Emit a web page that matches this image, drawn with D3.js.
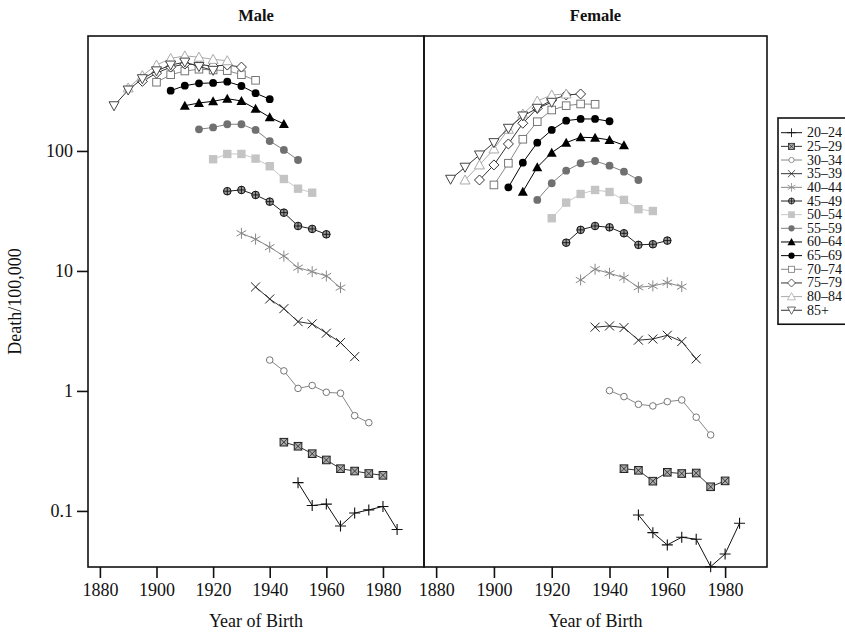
<!DOCTYPE html>
<html><head><meta charset="utf-8">
<script src="https://cdn.jsdelivr.net/npm/d3@7/dist/d3.min.js"></script>
<style>
body{margin:0;background:#fff}
svg{display:block}
text{font-family:"Liberation Serif","DejaVu Serif",serif;fill:#111}
</style>
</head><body>
<svg id="chart" width="845" height="635"></svg>
<script>
// ---------------- DATA ----------------
const ageGroups = ["20\u201324","25\u201329","30\u201334","35\u201339","40\u201344","45\u201349","50\u201354",
                   "55\u201359","60\u201364","65\u201369","70\u201374","75\u201379","80\u201384","85+"];
// birth cohort of first point in each series, points every 5 years
const startYears = [1950,1945,1940,1935,1930,1925,1920,1915,1910,1905,1900,1895,1890,1885];
const cohortStep = 5;
const panelTitles = ["Male","Female"];
const xTickValues = [1880,1900,1920,1940,1960,1980];
const yTickValues = [0.1,1,10,100];
const yTickLabels = ["0.1","1","10","100"];

// Male death rates per 100,000
const m20_24 = [0.172,0.111,0.114,0.075,0.096,0.102,0.109,0.070];
const m25_29 = [0.374,0.346,0.300,0.266,0.225,0.215,0.205,0.198];
const m30_34 = [1.81,1.47,1.05,1.11,0.975,0.957,0.622,0.544];
const m35_39 = [7.36,5.84,4.85,3.78,3.62,3.03,2.53,1.93];
const m40_44 = [20.6,18.4,15.8,13.3,10.65,9.87,9.08,7.26];
const m45_49 = [46.2,47.3,43.0,37.8,30.6,23.7,22.4,20.2];
const m50_54 = [85.3,94.4,94.4,86.3,74.6,58.4,48.5,44.9];
const m55_59 = [151.6,157,167,167,149.6,121,102,84.1];
const m60_64 = [238.5,251,259.5,272.8,261,225,191,168];
const m65_69 = [318,350,366,369,378,348,303,270];
const m70_74 = [374,432,464,480,473,467,432,388];
const m75_79 = [380,445,500,530,525,510,520,500];
const m80_84 = [335,425,520,590,620,605,580,565];
const m85p   = [238,322,400,465,520,550,505,470];

// Female death rates per 100,000
const f20_24 = [0.0926,0.0659,0.0521,0.0604,0.0581,0.0343,0.0438,0.079];
const f25_29 = [0.225,0.218,0.177,0.210,0.205,0.207,0.159,0.178];
const f30_34 = [1.006,0.897,0.774,0.750,0.814,0.841,0.604,0.430];
const f35_39 = [3.40,3.48,3.37,2.65,2.71,2.91,2.58,1.85];
const f40_44 = [8.41,10.33,9.57,8.79,7.31,7.50,7.99,7.40];
const f45_49 = [17.2,22.0,23.7,23.1,20.6,16.5,16.7,17.9];
const f50_54 = [27.5,37.1,43.8,47.3,45.5,39.1,32.7,31.6];
const f55_59 = [39.1,53.8,68.5,79.0,82.5,75.4,67.2,57.3];
const f60_64 = [45.8,73.2,96.8,117.3,130.0,129,123.5,111.6];
const f65_69 = [49.8,79.9,117.3,149.6,178.9,184.8,184.8,176.8];
const f70_74 = [52.1,79.0,125.2,175.4,219.5,238.5,246.4,245];
const f75_79 = [57.3,76.5,114.4,170.1,226.8,266,292.9,298.5];
const f80_84 = [57.3,76.5,103.9,151.6,203.4,261,292.9,298.5];
const f85p   = [58.1,73.2,92.6,117.3,154.5,195.7,226.8,254.5];

const maleSeries = [m20_24,m25_29,m30_34,m35_39,m40_44,m45_49,m50_54,m55_59,m60_64,m65_69,m70_74,m75_79,m80_84,m85p];
const femaleSeries = [f20_24,f25_29,f30_34,f35_39,f40_44,f45_49,f50_54,f55_59,f60_64,f65_69,f70_74,f75_79,f80_84,f85p];

// ---------------- STYLE ----------------
const markerTypes = ["plus","boxX","circleOpen","cross","asterisk","circlePlus","squareFill",
                     "circleFill","triangleFill","circleFill","squareOpen","diamondOpen","triangleOpen","triangleDownOpen"];
const markerColors = ["#111","#222","#777","#222","#888","#111","#c4c4c4","#707070","#000","#000","#777","#333","#aaa","#444"];
const lineColors   = ["#111","#333","#888","#333","#888","#222","#c8c8c8","#808080","#000","#000","#888","#333","#aaa","#333"];

const svg = d3.select("#chart");
const plotTop = 36, plotBottom = 567;
const panels = [{x0:88,x1:424},{x0:424,x1:767}];
const y = d3.scaleLog().domain([0.0341,908]).range([plotBottom, plotTop]);

function drawMarker(g, type, col){
  switch(type){
    case "plus":
      g.append("path").attr("d","M-5.5,0H5.5M0,-5.5V5.5").attr("stroke",col).attr("stroke-width",1.1).attr("fill","none"); break;
    case "boxX":
      g.append("rect").attr("x",-3.8).attr("y",-3.8).attr("width",7.6).attr("height",7.6).attr("fill","#aaa").attr("stroke",col).attr("stroke-width",1);
      g.append("path").attr("d","M-3.8,-3.8L3.8,3.8M-3.8,3.8L3.8,-3.8").attr("stroke",col).attr("stroke-width",0.8); break;
    case "circleOpen":
      g.append("circle").attr("r",3.3).attr("fill","#fff").attr("stroke",col).attr("stroke-width",1); break;
    case "cross":
      g.append("path").attr("d","M-4.5,-4.5L4.5,4.5M-4.5,4.5L4.5,-4.5").attr("stroke",col).attr("stroke-width",1).attr("fill","none"); break;
    case "asterisk":
      g.append("path").attr("d","M0,-5.5V5.5M-4.8,-2.8L4.8,2.8M-4.8,2.8L4.8,-2.8").attr("stroke",col).attr("stroke-width",1).attr("fill","none"); break;
    case "circlePlus":
      g.append("circle").attr("r",3.8).attr("fill","#999").attr("stroke",col).attr("stroke-width",1);
      g.append("path").attr("d","M-3.8,0H3.8M0,-3.8V3.8").attr("stroke",col).attr("stroke-width",0.9); break;
    case "squareFill":
      g.append("rect").attr("x",-4.2).attr("y",-4.2).attr("width",8.4).attr("height",8.4).attr("fill",col); break;
    case "circleFill":
      g.append("circle").attr("r",3.9).attr("fill",col); break;
    case "triangleFill":
      g.append("path").attr("d","M0,-5L5,4L-5,4Z").attr("fill",col); break;
    case "squareOpen":
      g.append("rect").attr("x",-3.8).attr("y",-3.8).attr("width",7.6).attr("height",7.6).attr("fill","#fff").attr("stroke",col).attr("stroke-width",1); break;
    case "diamondOpen":
      g.append("path").attr("d","M0,-5L5,0L0,5L-5,0Z").attr("fill","#fff").attr("stroke",col).attr("stroke-width",1); break;
    case "triangleOpen":
      g.append("path").attr("d","M0,-5L5,4L-5,4Z").attr("fill","#fff").attr("stroke",col).attr("stroke-width",1); break;
    case "triangleDownOpen":
      g.append("path").attr("d","M0,5L5,-4L-5,-4Z").attr("fill","#fff").attr("stroke",col).attr("stroke-width",1); break;
  }
}

[maleSeries, femaleSeries].forEach((seriesSet, p) => {
  const P = panels[p];
  const x = d3.scaleLinear().domain([1875.8,1994.5]).range([P.x0, P.x1]);
  const g = svg.append("g");

  g.append("rect").attr("x",P.x0).attr("y",plotTop).attr("width",P.x1-P.x0).attr("height",plotBottom-plotTop)
    .attr("fill","none").attr("stroke","#111").attr("stroke-width",1.6);

  const xa = g.append("g").attr("transform",`translate(0,${plotBottom})`)
    .call(d3.axisBottom(x).tickValues(xTickValues).tickFormat(d3.format("d")).tickSize(11).tickPadding(5));
  xa.select(".domain").remove();
  xa.selectAll(".tick line").attr("stroke","#111").attr("stroke-width",1.6);
  xa.selectAll(".tick text").attr("font-size",18).attr("font-family","Liberation Serif");

  g.append("text").attr("x",(P.x0+P.x1)/2).attr("y",627).attr("text-anchor","middle")
    .attr("font-size",18).text("Year of Birth");
  g.append("text").attr("x",(P.x0+P.x1)/2).attr("y",21).attr("text-anchor","middle")
    .attr("font-size",16.5).attr("font-weight","bold").text(panelTitles[p]);

  if (p === 0){
    const ya = g.append("g").attr("transform",`translate(${P.x0},0)`)
      .call(d3.axisLeft(y).tickValues(yTickValues).tickFormat((d,i)=>yTickLabels[i]).tickSize(11).tickPadding(4));
    ya.select(".domain").remove();
    ya.selectAll(".tick line").attr("stroke","#111").attr("stroke-width",1.6);
    ya.selectAll(".tick text").attr("font-size",18).attr("font-family","Liberation Serif");
    g.append("text").attr("transform",`translate(21,${(plotTop+plotBottom)/2}) rotate(-90)`)
      .attr("text-anchor","middle").attr("font-size",18).text("Death/100,000");
  }

  const line = d3.line().x(d=>x(d.year)).y(d=>y(d.v));
  seriesSet.forEach((vals, i) => {
    const pts = vals.map((v,k)=>({year:startYears[i]+k*cohortStep, v}));
    g.append("path").datum(pts).attr("d",line).attr("fill","none")
      .attr("stroke",lineColors[i]).attr("stroke-width",1);
    pts.forEach(d => {
      const mg = g.append("g").attr("transform",`translate(${x(d.year)},${y(d.v)})`);
      drawMarker(mg, markerTypes[i], markerColors[i]);
    });
  });
});

// legend
const lg = svg.append("g");
const lx = 778, ly = 118, lstep = 13.66;
lg.append("rect").attr("x",lx).attr("y",ly).attr("width",90).attr("height",lstep*ageGroups.length+15)
  .attr("fill","#fff").attr("stroke","#111").attr("stroke-width",1.6);
ageGroups.forEach((a,i)=>{
  const cy = ly + 14.7 + i*lstep;
  lg.append("line").attr("x1",lx+3).attr("x2",lx+24).attr("y1",cy).attr("y2",cy)
    .attr("stroke",lineColors[i]).attr("stroke-width",1);
  const mg = lg.append("g").attr("transform",`translate(${lx+13.5},${cy}) scale(0.8)`);
  drawMarker(mg, markerTypes[i], markerColors[i]);
  lg.append("text").attr("x",lx+29).attr("y",cy+4.5).attr("font-size",14).text(a);
});
</script>
</body></html>
